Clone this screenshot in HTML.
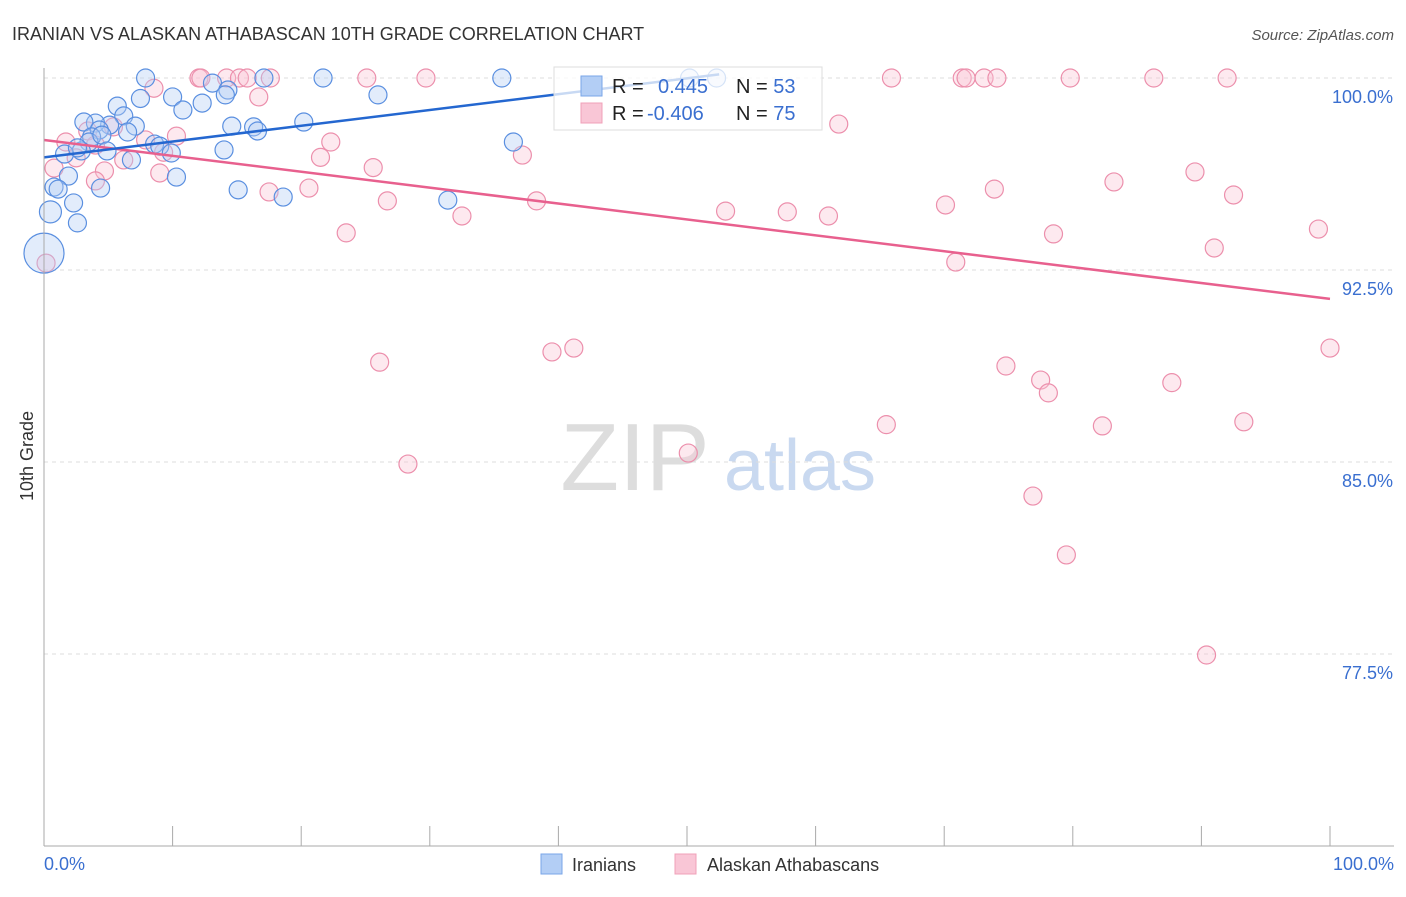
<!DOCTYPE html>
<html><head><meta charset="utf-8"><style>
body{margin:0;background:#fff;font-family:"Liberation Sans",sans-serif;}
svg text{font-family:"Liberation Sans",sans-serif;}
</style></head><body>
<svg id="c" width="1406" height="892" xmlns="http://www.w3.org/2000/svg">
<text x="12" y="40" font-size="18" fill="#333">IRANIAN VS ALASKAN ATHABASCAN 10TH GRADE CORRELATION CHART</text>
<text x="1394" y="40" font-size="15" fill="#555" text-anchor="end" font-style="italic">Source: ZipAtlas.com</text>
<text x="33" y="456" font-size="18" fill="#333" text-anchor="middle" transform="rotate(-90 33 456)">10th Grade</text>
<g><text x="635" y="490" font-size="96" fill="#ddd" text-anchor="middle" font-family="Liberation Serif">ZIP</text><text x="800" y="490" font-size="72" fill="#c9d9f0" text-anchor="middle">atlas</text></g>
<g id="grid"></g><g id="pts"></g><g id="lines"></g>
<line x1="44" y1="68" x2="44" y2="846" stroke="#aaa"/>
<line x1="44" y1="846" x2="1394" y2="846" stroke="#aaa"/>
<text x="44" y="870" font-size="18" fill="#3a6fd0">0.0%</text>
<text x="1394" y="870" font-size="18" fill="#3a6fd0" text-anchor="end">100.0%</text>
<g>
<rect x="554" y="67" width="268" height="63" fill="#fff" fill-opacity="0.75" stroke="#ddd"/>
<rect x="581" y="76" width="21" height="20" fill="#b3cef5" stroke="#7aa6e8"/>
<rect x="581" y="103" width="21" height="20" fill="#f9c6d6" stroke="#f0a0b8"/>
<text x="612" y="93" font-size="20" fill="#222">R = <tspan fill="#3a6fd0" x="658">0.445</tspan><tspan x="736">N = </tspan><tspan fill="#3a6fd0">53</tspan></text>
<text x="612" y="120" font-size="20" fill="#222">R = <tspan fill="#3a6fd0" x="647">-0.406</tspan><tspan x="736">N = </tspan><tspan fill="#3a6fd0">75</tspan></text>
</g>
<g>
<rect x="541" y="854" width="21" height="20" fill="#b3cef5" stroke="#7aa6e8"/>
<text x="572" y="871" font-size="18" fill="#333">Iranians</text>
<rect x="675" y="854" width="21" height="20" fill="#f9c6d6" stroke="#f0a0b8"/>
<text x="707" y="871" font-size="18" fill="#333">Alaskan Athabascans</text>
</g>
</svg>
<script>
const yTicks=[100,92.5,85,77.5];
const yTickLabels=["100.0%","92.5%","85.0%","77.5%"];
const xTicks=[0,10,20,30,40,50,60,70,80,90,100];
const blueX=[7.9,17.1,21.7,35.6,50.2,52.3,7.5,10,13.1,14.3,14.1,12.3,10.8,5.7,25.97,20.2,14.6,16.3,16.6,6.2,7.1,5.1,4.0,3.1,4.3,6.5,3.7,3.5,4.5,36.5,8.6,9,9.9,4.9,2.9,1.6,2.6,14,6.8,10.3,1.9,0.78,1.1,4.4,15.1,18.6,31.4,2.3,0.5,2.6,0];
const blueY=[100,100,100,100,100,100,99.2,99.26,99.8,99.53,99.34,99.02,98.75,98.9,99.34,98.28,98.12,98.09,97.93,98.52,98.12,98.16,98.24,98.28,97.97,97.89,97.7,97.5,97.77,97.5,97.42,97.34,97.07,97.15,97.15,97.03,97.27,97.19,96.8,96.13,96.17,95.74,95.66,95.7,95.63,95.35,95.23,95.12,94.77,94.34,93.16];
const blueR=[9,9,9,9,9,9,9,9,9,9,9,9,9,9,9,9,9,9,9,9,9,9,9,9,9,9,9,9,9,9,9,9,9,9,9,9,9,9,9,9,9,9,9,9,9,9,9,9,11,9,20];
const pinkX=[12.05,12.2,14.2,15.2,15.8,17.6,25.1,29.7,65.9,71.4,71.7,73.1,74.1,79.8,86.3,92,8.55,16.7,61.8,1.7,3.4,5.4,7.9,10.3,22.3,4.0,9.3,21.5,37.2,2.5,0.78,6.2,4.7,9,25.6,4.0,17.5,20.6,26.7,32.5,38.3,23.5,53,57.8,61,70.1,73.9,83.2,89.5,92.5,99.1,78.5,91,70.9,0.16,26.1,39.5,41.2,74.8,77.5,78.1,87.7,100,65.5,82.3,93.3,50.1,28.3,76.9,79.5,90.4];
const pinkY=[100,100,100,100,100,100,100,100,100,100,100,100,100,100,100,100,99.6,99.26,98.2,97.5,97.93,98.09,97.58,97.73,97.5,97.38,97.1,96.9,96.99,96.88,96.48,96.8,96.37,96.29,96.5,95.98,95.55,95.7,95.2,94.61,95.2,93.95,94.8,94.77,94.61,95.04,95.66,95.94,96.33,95.43,94.1,93.91,93.36,92.81,92.77,88.9,89.3,89.45,88.75,88.2,87.7,88.1,89.45,86.46,86.41,86.57,85.35,84.92,83.67,81.37,77.46];
const blueTrend=[0,96.9,52.5,100.14];
const pinkTrend=[0,97.58,100,91.37];
const NS="http://www.w3.org/2000/svg";
const X=v=>44+v*12.86;
const Y=v=>78+(100-v)*25.6;
const grid=document.getElementById('grid');
yTicks.forEach((t,i)=>{
 const l=document.createElementNS(NS,'line');
 l.setAttribute('x1',44);l.setAttribute('x2',1394);l.setAttribute('y1',Y(t));l.setAttribute('y2',Y(t));
 l.setAttribute('stroke','#ddd');l.setAttribute('stroke-dasharray','4 4');
 
 
 grid.appendChild(l);
 const tx=document.createElementNS(NS,'text');
 tx.setAttribute('x',1393);tx.setAttribute('y',Y(t)+25);tx.setAttribute('text-anchor','end');
 tx.setAttribute('font-size','18');tx.setAttribute('fill','#3a6fd0');tx.textContent=yTickLabels[i];
 
 
 grid.appendChild(tx);
});
xTicks.forEach(t=>{
 const l=document.createElementNS(NS,'line');
 l.setAttribute('x1',X(t));l.setAttribute('x2',X(t));l.setAttribute('y1',826);l.setAttribute('y2',846);
 l.setAttribute('stroke','#aaa');
 
 
 grid.appendChild(l);
});
const pts=document.getElementById('pts');
function dot(x,y,r,fill,stroke,name){
 const c=document.createElementNS(NS,'circle');
 c.setAttribute('cx',X(x));c.setAttribute('cy',Y(y));c.setAttribute('r',r);
 c.setAttribute('fill',fill);c.setAttribute('fill-opacity','0.38');c.setAttribute('stroke',stroke);c.setAttribute('stroke-width','1.2');
 
 
 pts.appendChild(c);
}
pinkX.forEach((x,i)=>dot(x,pinkY[i],9,'#f9c6d6','#ec8fac','athabascan-point'));
blueX.forEach((x,i)=>dot(x,blueY[i],blueR[i],'#b3cef5','#5a8fe0','iranian-point'));
const lines=document.getElementById('lines');
function tl(t,col,name){
 const l=document.createElementNS(NS,'line');
 l.setAttribute('x1',X(t[0]));l.setAttribute('y1',Y(t[1]));l.setAttribute('x2',X(t[2]));l.setAttribute('y2',Y(t[3]));
 l.setAttribute('stroke',col);l.setAttribute('stroke-width','2.5');
 
 
 lines.appendChild(l);
}
tl(pinkTrend,'#e8608e','athabascan-trend-line');
tl(blueTrend,'#2467d0','iranian-trend-line');
</script>
</body></html>
